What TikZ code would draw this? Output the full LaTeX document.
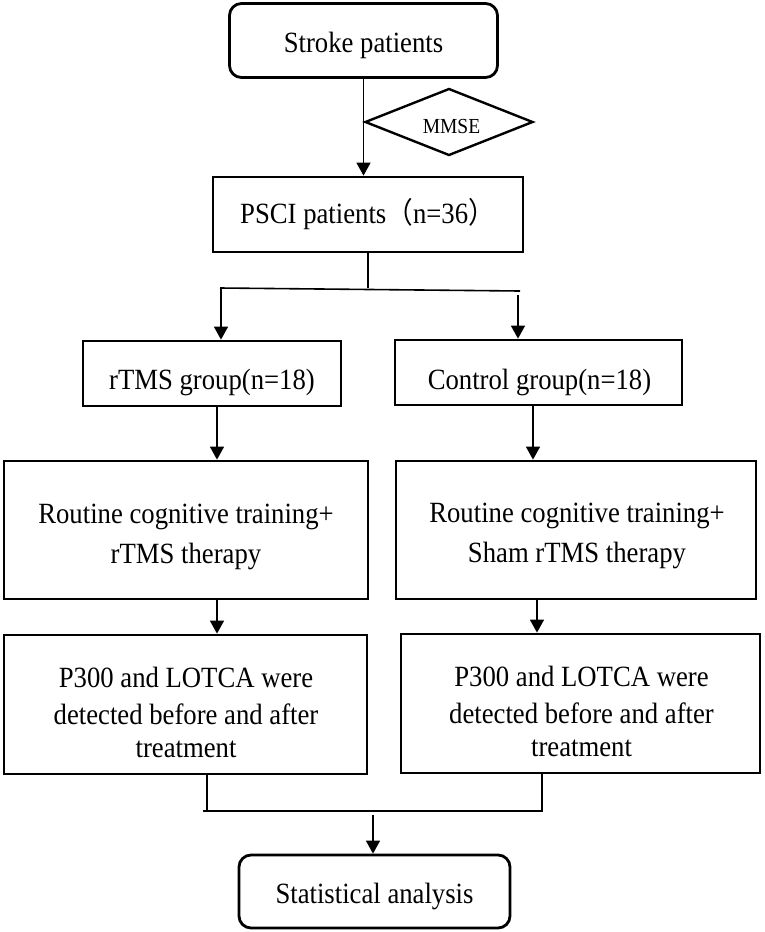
\documentclass[tikz,border=0pt]{standalone}
\usepackage{fontspec}
\usepackage{graphicx}
\setmainfont{Liberation Serif}
\newfontfamily\cjk{Noto Sans CJK SC}
\usetikzlibrary{arrows.meta,shapes.geometric}
\newcommand\stx[1]{\scalebox{1}[1.1]{\begin{tabular}[t]{@{}c@{}}#1\end{tabular}}}
\tikzset{
  boxbase/.style={draw=black, line width=2.8pt, inner sep=0pt},
  sqbox/.style={boxbase},
  rbox/.style={boxbase, rounded corners=12pt},
  txt/.style={inner sep=0pt, anchor=base, font=\fontsize{26.7}{34.5}\selectfont},
  dia/.style={draw=black, line width=2.4pt, shape=diamond, aspect=2.5, inner sep=0pt,
    minimum width=168pt, minimum height=67pt},
  diatxt/.style={inner sep=0pt, anchor=base, font=\fontsize{19.5}{22}\selectfont},
  conn/.style={draw=black, line width=1.6pt},
  arr/.style={conn, -{Triangle[length=13pt,width=14pt]}}
}
\begin{document}
\begin{tikzpicture}[x=1pt,y=-1pt]
\useasboundingbox (0,0) rectangle (765,932);
% boxes
\node[rbox, minimum width=268pt, minimum height=74pt] (stroke) at (363.5,40.5) {};
\node[dia] (mmse) at (449,122) {};
\node[sqbox, minimum width=310pt, minimum height=75pt] (psci) at (368,214.5) {};
\node[sqbox, minimum width=258pt, minimum height=65pt] (rtms) at (212,373.5) {};
\node[sqbox, minimum width=287pt, minimum height=65pt] (ctrl) at (538.5,372.5) {};
\node[sqbox, minimum width=364pt, minimum height=138pt] (rl) at (186,530) {};
\node[sqbox, minimum width=360pt, minimum height=138pt] (rr) at (576,530) {};
\node[sqbox, minimum width=363pt, minimum height=139pt] (pl) at (185.5,704.5) {};
\node[sqbox, minimum width=359pt, minimum height=139pt] (pr) at (580.5,703.5) {};
\node[rbox, minimum width=271pt, minimum height=73pt] (stat) at (374.5,891.5) {};
% texts
\node[txt] (strokeT) at (363.5,52) {\stx{Stroke patients}};
\node[diatxt] (mmseT) at (451.5,133) {\scalebox{1}[1.1]{MMSE}};
\node[txt, anchor=base west] (psciT) at (240,223) {\scalebox{1}[1.1]{PSCI patients{\cjk （}n=36{\cjk ）}}};
\node[txt] (rtmsT) at (212,389) {\stx{rTMS group(n=18)}};
\node[txt] (ctrlT) at (539.5,389) {\stx{Control group(n=18)}};
\node[txt] (rlT) at (186,523) {\stx{Routine cognitive training+\\[2pt]rTMS therapy}};
\node[txt] (rrT) at (577,522) {\stx{Routine cognitive training+\\[2pt]Sham rTMS therapy}};
\node[txt] (plT) at (186,687) {\stx{P300 and LOTCA were\\detected before and after\\[-5pt]treatment}};
\node[txt] (prT) at (581.5,686) {\stx{P300 and LOTCA were\\detected before and after\\[-5pt]treatment}};
\node[txt] (statT) at (374.5,903) {\stx{Statistical analysis}};
% helper coordinates
\coordinate (sp) at (368,288);
\coordinate (bl) at (220,288);
\coordinate (br) at (520,291);
\coordinate (rs) at (518,295);
\coordinate (xl) at (221,0);
\coordinate (xr) at (518,0);
\coordinate (xl2) at (217,0);
\coordinate (xr2) at (533,0);
\coordinate (xr3) at (537,0);
\coordinate (jl) at (207,811);
\coordinate (jr) at (542,811);
\coordinate (ja) at (203,811);
\coordinate (jb) at (543,811);
\coordinate (jm) at (373,815);
% connectors
\draw[arr] (stroke.south) -- (stroke.south |- psci.north);
\draw[conn] (psci.south) -- (sp);
\draw[conn] (bl) -- (br);
\draw[arr] (bl -| xl) -- (rtms.north -| xl);
\draw[arr] (rs) -- (ctrl.north -| xr);
\draw[arr] (rtms.south -| xl2) -- (rl.north -| xl2);
\draw[arr] (ctrl.south -| xr2) -- (rr.north -| xr2);
\draw[arr] (rl.south -| xl2) -- (pl.north -| xl2);
\draw[arr] (rr.south -| xr3) -- (pr.north -| xr3);
\draw[conn] (pl.south -| jl) -- (jl);
\draw[conn] (pr.south -| jr) -- (jr);
\draw[conn] (ja) -- (jb);
\draw[arr] (jm) -- (stat.north -| jm);
\end{tikzpicture}
\end{document}
